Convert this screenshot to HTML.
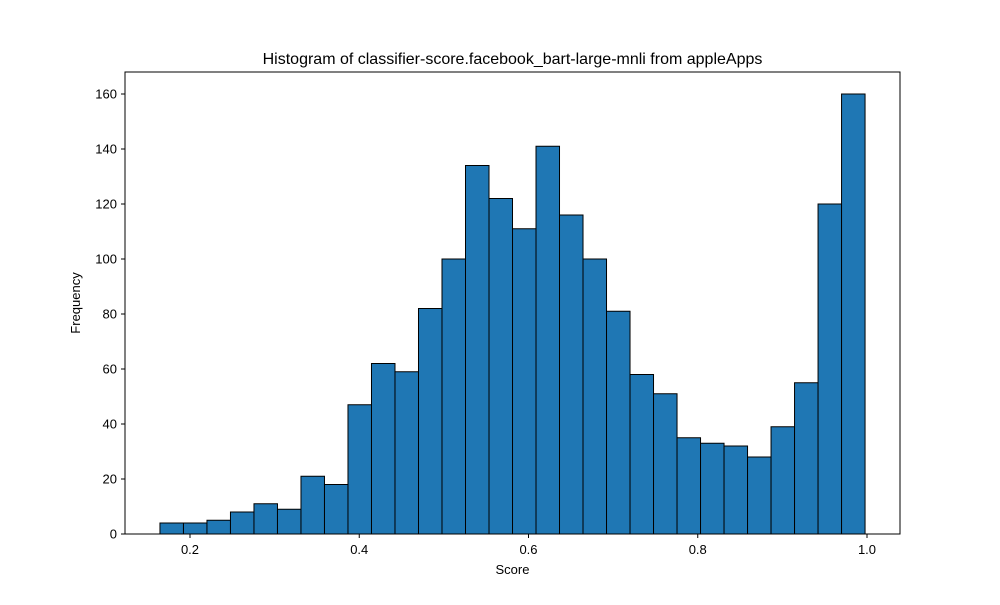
<!DOCTYPE html>
<html><head><meta charset="utf-8"><style>
body{margin:0;background:#fff}
svg{font-family:"Liberation Sans","DejaVu Sans",sans-serif}
</style></head><body>
<svg id="chart" width="1000" height="600" xmlns="http://www.w3.org/2000/svg">
<rect width="1000" height="600" fill="#fff"/>
<text x="512.5" y="64" text-anchor="middle" font-size="16">Histogram of classifier-score.facebook_bart-large-mnli from appleApps</text>
<g id="bars"></g>
<rect x="125" y="72" width="775" height="462" fill="none" stroke="#000" stroke-width="1"/>
<g id="xticks"></g><g id="yticks"></g>
<text x="512.5" y="574" text-anchor="middle" font-size="13">Score</text>
<text transform="translate(80,303) rotate(-90)" text-anchor="middle" font-size="13">Frequency</text>
</svg>
<script>
const binStart = 0.1645;
const binEnd = 0.9977;
const counts = [4,4,5,8,11,9,21,18,47,62,59,82,100,134,122,111,141,116,100,81,58,51,35,33,32,28,39,55,120,160];
const xTickLabels = [0.2,0.4,0.6,0.8,1.0];
const yTickLabels = [0,20,40,60,80,100,120,140,160];
const NS="http://www.w3.org/2000/svg";
const xs=v=>190+(v-0.2)*846.25;
const ys=v=>534-v*2.75;
const bw=(binEnd-binStart)/counts.length;
const bars=document.getElementById('bars');
counts.forEach((c,i)=>{
  const r=document.createElementNS(NS,'rect');
  const x0=xs(binStart+i*bw),x1=xs(binStart+(i+1)*bw);
  r.setAttribute('x',x0);r.setAttribute('y',ys(c));
  r.setAttribute('width',x1-x0);r.setAttribute('height',ys(0)-ys(c));
  r.setAttribute('fill','#1f77b4');r.setAttribute('stroke','#000');r.setAttribute('stroke-width','1');
  
  
  bars.appendChild(r);
});
const xt=document.getElementById('xticks');
xTickLabels.forEach(v=>{
  const x=xs(v);
  const l=document.createElementNS(NS,'line');
  l.setAttribute('x1',x);l.setAttribute('x2',x);l.setAttribute('y1',534);l.setAttribute('y2',538);l.setAttribute('stroke','#000');
  
  
  xt.appendChild(l);
  const t=document.createElementNS(NS,'text');
  t.setAttribute('x',x);t.setAttribute('y',554);t.setAttribute('text-anchor','middle');t.setAttribute('font-size','13');
  t.textContent=v.toFixed(1);
  
  
  xt.appendChild(t);
});
const yt=document.getElementById('yticks');
yTickLabels.forEach(v=>{
  const y=ys(v);
  const l=document.createElementNS(NS,'line');
  l.setAttribute('x1',121);l.setAttribute('x2',125);l.setAttribute('y1',y);l.setAttribute('y2',y);l.setAttribute('stroke','#000');
  
  
  yt.appendChild(l);
  const t=document.createElementNS(NS,'text');
  t.setAttribute('x',117);t.setAttribute('y',y+4.5);t.setAttribute('text-anchor','end');t.setAttribute('font-size','13');
  t.textContent=v;
  
  
  yt.appendChild(t);
});
</script>
</body></html>
